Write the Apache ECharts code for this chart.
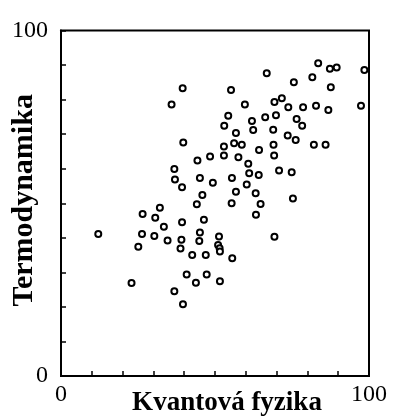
<!DOCTYPE html>
<html>
<head>
<meta charset="utf-8">
<script src="https://cdn.jsdelivr.net/npm/echarts@6/dist/echarts.min.js"></script>
<style>
  html, body { margin: 0; padding: 0; background: #fff; }
  #chart { width: 393px; height: 418px; }
</style>
</head>
<body>
<div id="chart"></div>
<script>
// body studentu: kvantova fyzika (x) a termodynamika (y)
var fyzika = [
    39.5, 35.9, 39.7, 36.8, 37.0, 66.8, 55.2, 59.7, 69.3, 71.7,
    54.3, 53.0, 62.0, 62.4, 66.3, 69.8, 68.9, 56.8, 56.2, 58.7,
    52.9, 52.9, 48.4, 44.3, 57.6, 64.3, 69.0, 69.2, 60.8, 61.1,
    64.2, 70.8, 45.1, 49.3, 55.5, 60.3, 83.5, 87.3, 89.5, 98.5,
    81.6, 75.6, 87.6, 73.8, 78.6, 82.8, 86.8, 97.4, 76.5, 78.3,
    73.6, 76.2, 82.1, 85.9, 74.9, 39.3, 32.1, 26.5, 30.6, 39.3,
    33.4, 12.1, 26.3, 30.3, 34.6, 39.1, 25.1, 38.8, 22.9, 36.8,
    39.6, 56.8, 63.2, 45.9, 44.1, 55.4, 64.8, 63.3, 46.4, 45.1,
    44.9, 51.3, 51.0, 51.5, 51.6, 69.3, 42.6, 47.0, 55.6, 40.8,
    47.3, 43.8, 51.6, 75.3
];
var termodynamika = [
    83.3, 78.6, 67.6, 59.9, 56.9, 87.6, 82.8, 78.6, 79.3, 80.4,
    75.3, 72.4, 73.8, 71.2, 74.9, 75.5, 71.3, 70.3, 67.4, 66.9,
    66.4, 63.8, 63.5, 62.4, 63.3, 65.4, 66.9, 63.8, 61.4, 58.7,
    58.2, 59.5, 57.3, 55.9, 57.3, 55.4, 90.5, 88.9, 89.3, 88.6,
    86.5, 85.0, 83.6, 77.8, 77.8, 78.2, 77.0, 78.2, 74.4, 72.4,
    69.6, 68.3, 66.9, 66.9, 59.0, 54.6, 48.7, 46.9, 45.8, 44.5,
    43.2, 41.1, 41.1, 40.5, 39.2, 39.4, 37.4, 36.9, 26.9, 24.5,
    20.8, 53.3, 52.9, 52.4, 49.7, 50.0, 49.8, 46.7, 45.2, 41.5,
    39.1, 40.4, 37.9, 37.0, 36.0, 40.3, 35.0, 35.0, 34.1, 29.4,
    29.4, 27.0, 27.4, 51.4
];
var krajniPopisky = [0, 100];

var body = fyzika.map(function (x, i) {
    return [x, termodynamika[i]];
});

var myChart = echarts.init(document.getElementById('chart'));

function popisek(v) {
    return krajniPopisky.indexOf(v) >= 0 ? String(v) : '';
}

var option = {
    animation: false,
    grid: {
        left: 61,
        top: 30.5,
        width: 308,
        height: 345.5,
        containLabel: false,
        outerBoundsMode: 'none',
        show: true,
        borderColor: '#000',
        borderWidth: 2,
        backgroundColor: 'transparent'
    },
    xAxis: {
        type: 'value',
        min: 0,
        max: 100,
        interval: 10,
        name: 'Kvantová fyzika',
        nameLocation: 'middle',
        nameGap: 14,
        nameMoveOverlap: false,
        nameTextStyle: {
            fontFamily: 'Liberation Serif',
            fontWeight: 'bold',
            fontSize: 27,
            color: '#000',
            padding: [0, 0, 0, 24]
        },
        axisLine: { lineStyle: { color: '#000', width: 2 } },
        axisTick: { inside: true, length: 5, lineStyle: { color: '#000', width: 1.5 } },
        splitLine: { show: false },
        axisLabel: {
            margin: 7,
            fontFamily: 'Liberation Serif',
            fontSize: 24,
            color: '#000',
            showMinLabel: true,
            showMaxLabel: true,
            formatter: popisek
        }
    },
    yAxis: {
        type: 'value',
        min: 0,
        max: 100,
        interval: 10,
        name: 'Termodynamika',
        nameLocation: 'middle',
        nameGap: 22,
        nameRotate: 90,
        nameMoveOverlap: false,
        nameTextStyle: {
            fontFamily: 'Liberation Serif',
            fontWeight: 'bold',
            fontSize: 30,
            color: '#000',
            padding: [0, 0, 0, 6]
        },
        axisLine: { lineStyle: { color: '#000', width: 2 } },
        axisTick: { inside: true, length: 5, lineStyle: { color: '#000', width: 1.5 } },
        splitLine: { show: false },
        axisLabel: {
            margin: 13,
            fontFamily: 'Liberation Serif',
            fontSize: 24,
            color: '#000',
            showMinLabel: true,
            showMaxLabel: true,
            formatter: popisek
        }
    },
    series: [{
        type: 'scatter',
        data: body,
        symbol: 'circle',
        symbolSize: 6,
        itemStyle: {
            color: '#fff',
            borderColor: '#000',
            borderWidth: 2,
            opacity: 1
        }
    }]
};

myChart.setOption(option);
</script>
</body>
</html>
